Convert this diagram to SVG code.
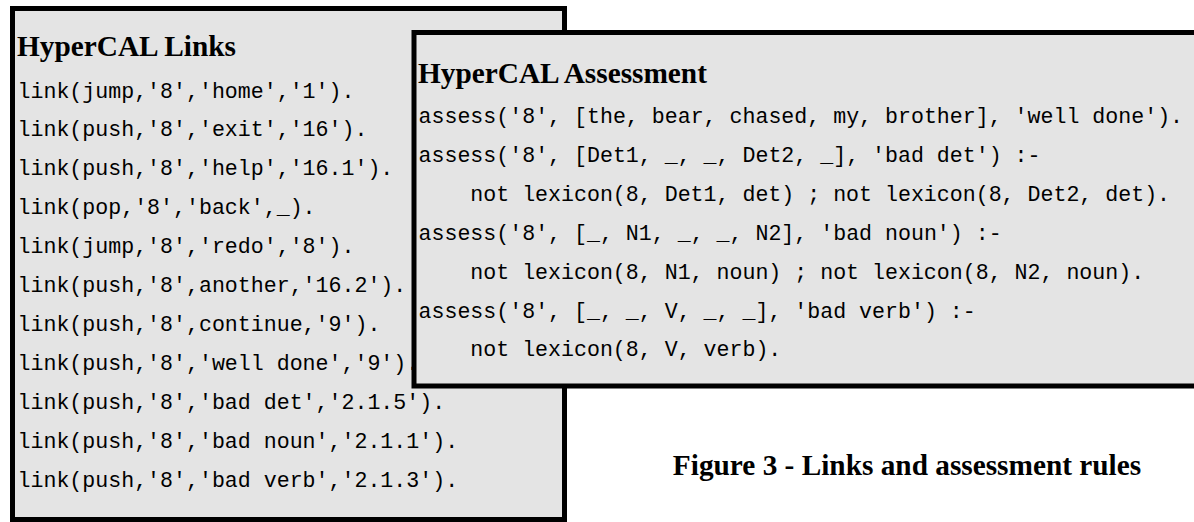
<svg xmlns="http://www.w3.org/2000/svg" width="1194" height="522" viewBox="0 0 1194 522">
<style>
.box{fill:#e4e4e4;stroke:#000;stroke-width:5}
.title{font-family:"Liberation Serif",serif;font-weight:bold;font-size:29.3px;fill:#000}
.code{font-family:"Liberation Mono",monospace;font-size:21.6px;fill:#000}
</style>
<rect width="1194" height="522" fill="#fff"/>
<g id="links">
<rect class="box" x="12.5" y="8.5" width="552" height="511"/>
<text class="title" x="17" y="55.5">HyperCAL Links</text>
<text class="code" x="17.5" y="97.5">link(jump,'8','home','1').</text>
<text class="code" x="17.5" y="136.4">link(push,'8','exit','16').</text>
<text class="code" x="17.5" y="175.3">link(push,'8','help','16.1').</text>
<text class="code" x="17.5" y="214.2">link(pop,'8','back',_).</text>
<text class="code" x="17.5" y="253.1">link(jump,'8','redo','8').</text>
<text class="code" x="17.5" y="292">link(push,'8',another,'16.2').</text>
<text class="code" x="17.5" y="330.9">link(push,'8',continue,'9').</text>
<text class="code" x="17.5" y="369.8">link(push,'8','well done','9').</text>
<text class="code" x="17.5" y="408.7">link(push,'8','bad det','2.1.5').</text>
<text class="code" x="17.5" y="447.6">link(push,'8','bad noun','2.1.1').</text>
<text class="code" x="17.5" y="486.5">link(push,'8','bad verb','2.1.3').</text>
</g>
<g id="assessment">
<rect class="box" x="414" y="32.5" width="800" height="353.5"/>
<text class="title" x="418" y="83">HyperCAL Assessment</text>
<text class="code" x="418.5" y="123">assess('8', [the, bear, chased, my, brother], 'well done').</text>
<text class="code" x="418.5" y="161.9">assess('8', [Det1, _, _, Det2, _], 'bad det') :-</text>
<text class="code" x="470.3" y="200.8">not lexicon(8, Det1, det) ; not lexicon(8, Det2, det).</text>
<text class="code" x="418.5" y="239.7">assess('8', [_, N1, _, _, N2], 'bad noun') :-</text>
<text class="code" x="470.3" y="278.6">not lexicon(8, N1, noun) ; not lexicon(8, N2, noun).</text>
<text class="code" x="418.5" y="317.5">assess('8', [_, _, V, _, _], 'bad verb') :-</text>
<text class="code" x="470.3" y="356.4">not lexicon(8, V, verb).</text>
</g>
<g id="caption">
<text class="title" x="907" y="475" text-anchor="middle">Figure 3 - Links and assessment rules</text>
</g>
</svg>
